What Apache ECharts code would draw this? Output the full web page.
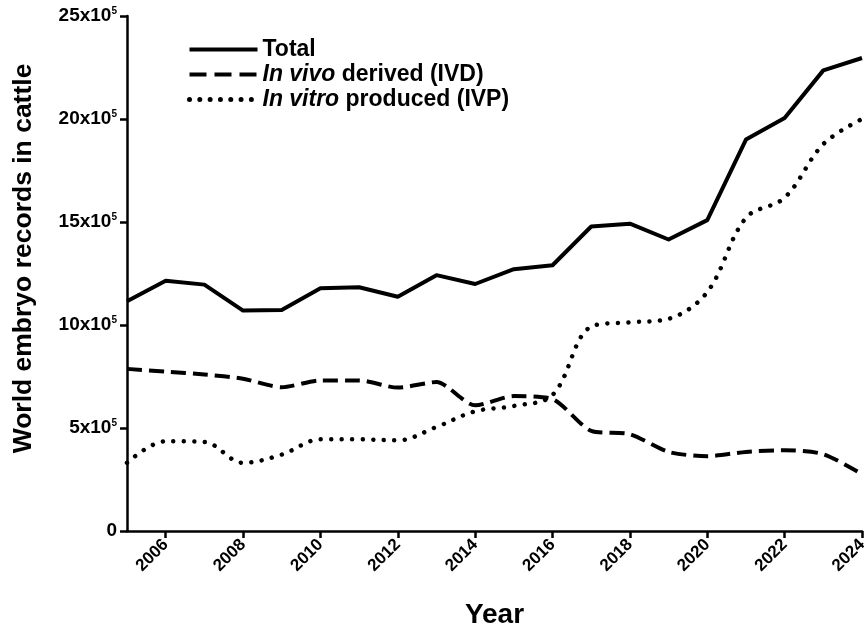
<!DOCTYPE html>
<html>
<head>
<meta charset="utf-8">
<script src="https://cdn.jsdelivr.net/npm/echarts@6/dist/echarts.min.js"></script>
<style>
  html, body { margin: 0; padding: 0; background: #fff; }
  #chart { width: 864px; height: 630px; }
</style>
</head>
<body>
<div id="chart"></div>
<script>
// data (embryo records)
const years = ['2005', '2006', '2007', '2008', '2009', '2010', '2011', '2012', '2013', '2014',
  '2015', '2016', '2017', '2018', '2019', '2020', '2021', '2022', '2023', '2024'];
const total = [1115000, 1215000, 1196000, 1070000, 1073000, 1178000, 1183000, 1137000, 1242000, 1199000,
  1271000, 1290000, 1478000, 1492000, 1415000, 1509000, 1900000, 2005000, 2236000, 2296000];
const ivd = [787000, 774000, 760000, 739000, 698000, 731000, 731000, 696000, 723000, 610000,
  655000, 640000, 486000, 470000, 384000, 363000, 384000, 392000, 373000, 276000];
const ivp = [331000, 436000, 432000, 331000, 371000, 445000, 445000, 440000, 505000, 581000,
  607000, 660000, 992000, 1013000, 1030000, 1160000, 1520000, 1618000, 1878000, 2000000];
const yTicks = [0, 500000, 1000000, 1500000, 2000000, 2500000];

const font = 'Arial, "Liberation Sans", sans-serif';
const chart = echarts.init(document.getElementById('chart'));

const option = {
  animation: false,
  backgroundColor: '#fff',
  grid: { left: 127, right: 2, top: 16, bottom: 99, outerBoundsMode: 'none', containLabel: false },
  legend: {
    orient: 'vertical',
    left: 182,
    top: 33,
    itemWidth: 68,
    itemHeight: 14,
    itemGap: 2,
    itemStyle: { opacity: 0, borderWidth: 0 },
    lineStyle: { width: 4 },
    textStyle: {
      fontFamily: font, fontSize: 23, fontWeight: 'bold', color: '#000',
      rich: {
        i: { fontFamily: font, fontSize: 23, lineHeight: 24, fontWeight: 'bold', fontStyle: 'italic', color: '#000' },
        b: { fontFamily: font, fontSize: 23, lineHeight: 24, fontWeight: 'bold', color: '#000' }
      }
    },
    formatter: function (name) {
      if (name === 'Total') return '{b|Total}';
      if (name === 'IVD') return '{i|In vivo}{b| derived (IVD)}';
      return '{i|In vitro}{b| produced (IVP)}';
    },
    data: [
      { name: 'Total' },
      { name: 'IVD', lineStyle: { type: [17, 8], width: 4 } },
      { name: 'IVP', lineStyle: { type: [0.01, 10.3], width: 5, cap: 'round' } }
    ]
  },
  xAxis: {
    type: 'category',
    data: years,
    boundaryGap: false,
    name: 'Year',
    nameLocation: 'middle',
    nameGap: 70,
    nameTextStyle: { fontFamily: font, fontSize: 28, fontWeight: 'bold', color: '#000' },
    axisLine: { lineStyle: { color: '#000', width: 2.5 } },
    axisTick: {
      length: 7,
      lineStyle: { color: '#000', width: 2.5 },
      interval: function (i, v) { return Number(v) % 2 === 0; }
    },
    axisLabel: {
      rotate: 45,
      margin: 11,
      fontFamily: font, fontSize: 17, fontWeight: 'bold', color: '#000',
      interval: function (i, v) { return Number(v) % 2 === 0; }
    },
    splitLine: { show: false }
  },
  yAxis: {
    type: 'value',
    min: yTicks[0],
    max: yTicks[yTicks.length - 1],
    interval: 500000,
    name: 'World embryo records in cattle',
    nameLocation: 'middle',
    nameGap: 90,
    nameTextStyle: { fontFamily: font, fontSize: 26.5, fontWeight: 'bold', color: '#000', padding: [0, 0, 0, 30] },
    axisLine: { show: true, lineStyle: { color: '#000', width: 2.5 } },
    axisTick: { show: true, length: 7, lineStyle: { color: '#000', width: 2.5 } },
    axisLabel: {
      margin: 10,
      fontFamily: font, fontSize: 19, fontWeight: 'bold', color: '#000',
      rich: {
        n: { fontFamily: font, fontSize: 19, fontWeight: 'bold', color: '#000' },
        s: { fontFamily: font, fontSize: 10, fontWeight: 'bold', color: '#000', padding: [0, 0, 10, 0] }
      },
      formatter: function (v) {
        if (v === 0) return '{n|0}';
        return '{n|' + (v / 100000) + 'x10}{s|5}';
      }
    },
    splitLine: { show: false }
  },
  series: [
    {
      name: 'Total', type: 'line', data: total, symbol: 'none',
      lineStyle: { color: '#000', width: 4, join: 'round' },
      itemStyle: { color: '#000' }
    },
    {
      name: 'IVD', type: 'line', data: ivd, symbol: 'none', smooth: 0.25,
      lineStyle: { color: '#000', width: 4, type: [15, 7] },
      itemStyle: { color: '#000' }
    },
    {
      name: 'IVP', type: 'line', data: ivp, symbol: 'none', smooth: 0.35,
      lineStyle: { color: '#000', width: 4.5, type: [0.01, 10.5], cap: 'round' },
      itemStyle: { color: '#000' }
    }
  ]
};

chart.setOption(option);
</script>
</body>
</html>
